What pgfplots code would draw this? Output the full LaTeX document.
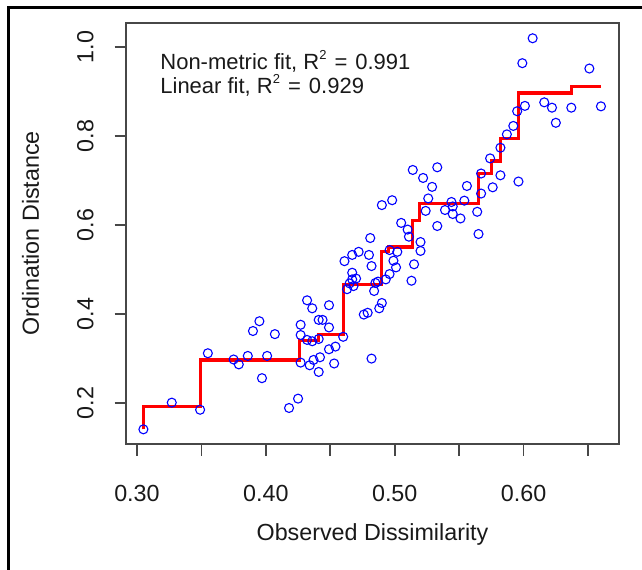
\documentclass[border=0pt]{standalone}
\usepackage{pgfplots}
\pgfplotsset{compat=1.18}
\usepackage{fontspec}
\setmainfont{Liberation Sans}
\pgfplotstableread{
x y
0.305 0.141
0.327 0.201
0.349 0.185
0.355 0.312
0.375 0.298
0.379 0.287
0.386 0.306
0.401 0.306
0.390 0.362
0.395 0.384
0.407 0.355
0.397 0.256
0.418 0.189
0.425 0.210
0.427 0.376
0.432 0.431
0.436 0.413
0.449 0.420
0.427 0.353
0.432 0.342
0.436 0.339
0.441 0.344
0.441 0.387
0.444 0.387
0.449 0.370
0.427 0.291
0.434 0.285
0.437 0.297
0.442 0.303
0.441 0.270
0.449 0.321
0.454 0.327
0.453 0.289
0.460 0.349
0.482 0.300
0.476 0.399
0.479 0.403
0.488 0.413
0.490 0.425
0.484 0.452
0.485 0.470
0.487 0.473
0.513 0.475
0.493 0.478
0.496 0.490
0.501 0.505
0.499 0.520
0.496 0.544
0.502 0.540
0.515 0.512
0.520 0.542
0.520 0.562
0.511 0.574
0.510 0.590
0.505 0.605
0.481 0.571
0.461 0.519
0.467 0.533
0.472 0.540
0.480 0.533
0.482 0.508
0.467 0.493
0.470 0.480
0.467 0.478
0.465 0.469
0.468 0.463
0.463 0.456
0.490 0.645
0.498 0.656
0.514 0.724
0.533 0.730
0.522 0.706
0.529 0.686
0.526 0.660
0.524 0.632
0.533 0.598
0.539 0.634
0.544 0.652
0.545 0.642
0.545 0.625
0.551 0.615
0.554 0.655
0.556 0.688
0.607 1.020
0.599 0.964
0.651 0.952
0.601 0.868
0.616 0.876
0.622 0.864
0.637 0.864
0.660 0.867
0.625 0.830
0.595 0.856
0.592 0.823
0.587 0.804
0.582 0.774
0.574 0.750
0.567 0.716
0.582 0.712
0.596 0.698
0.576 0.685
0.567 0.671
0.564 0.630
0.565 0.580
}\pointsdata
\pgfplotstableread{
x y
0.305 0.141
0.349 0.192
0.426 0.297
0.441 0.340
0.460 0.355
0.490 0.467
0.495 0.540
0.514 0.551
0.519 0.610
0.565 0.649
0.575 0.716
0.582 0.744
0.596 0.795
0.637 0.897
0.660 0.912
}\stepdata
\begin{document}
\fontsize{11.65}{14}\selectfont
\begin{tikzpicture}
\path[use as bounding box] (0,0) rectangle (321pt,-284.5pt);
\draw[line width=1.3pt, black] (4.15pt,-290pt) -- (4.15pt,-3.65pt) -- (330pt,-3.65pt);
\begin{axis}[
 at={(63pt,-222pt)}, anchor=south west,
 scale only axis, width=246.5pt, height=210.65pt,
 xmin=0.2915, xmax=0.674, ymin=0.108, ymax=1.055,
 axis line style={draw=black!72, line width=0.8pt},
 tick style={draw=black!72, line width=0.8pt},
 tick align=outside, major tick length=5.75pt,
 xtick pos=bottom, ytick pos=left,
 xtick={0.30,0.35,0.40,0.45,0.50,0.55,0.60,0.65},
 xticklabels={0.30,,0.40,,0.50,,0.60,},
 ytick={0.2,0.4,0.6,0.8,1.0},
 yticklabels={0.2,0.4,0.6,0.8,1.0},
 xticklabel style={anchor=north, inner sep=0pt, text=black!90},
 xticklabel shift=14.5pt,
 yticklabel style={rotate=90, anchor=base, inner sep=0pt, text=black!90},
 yticklabel shift=10.5pt,
 xlabel={Observed Dissimilarity},
 ylabel={Ordination Distance},
 xlabel style={at={(axis description cs:0.5,-0.2302)}, anchor=base, inner sep=0pt, text=black!90},
 ylabel style={at={(axis description cs:-0.1765,0.5)}, anchor=base, inner sep=0pt, text=black!90},
]
\addplot[only marks, mark=o, mark size=2.25pt, color=blue, mark options={line width=0.55pt}] table[x=x,y=y] {\pointsdata};
\addplot[red, line width=1.6pt, const plot mark right] table[x=x,y=y] {\stepdata};
\end{axis}
\node[anchor=base west, inner sep=0pt, font=\fontsize{11}{13}\selectfont, text=black!90] at (80pt,-34.65pt) {Non-metric fit, R\raisebox{5pt}{\fontsize{6.5}{7}\selectfont 2}\hspace{4pt}=\hspace{4pt}0.991};
\node[anchor=base west, inner sep=0pt, font=\fontsize{11}{13}\selectfont, text=black!90] at (80pt,-46.65pt) {Linear fit, R\raisebox{5pt}{\fontsize{6.5}{7}\selectfont 2}\hspace{4pt}=\hspace{4pt}0.929};
\end{tikzpicture}
\end{document}
